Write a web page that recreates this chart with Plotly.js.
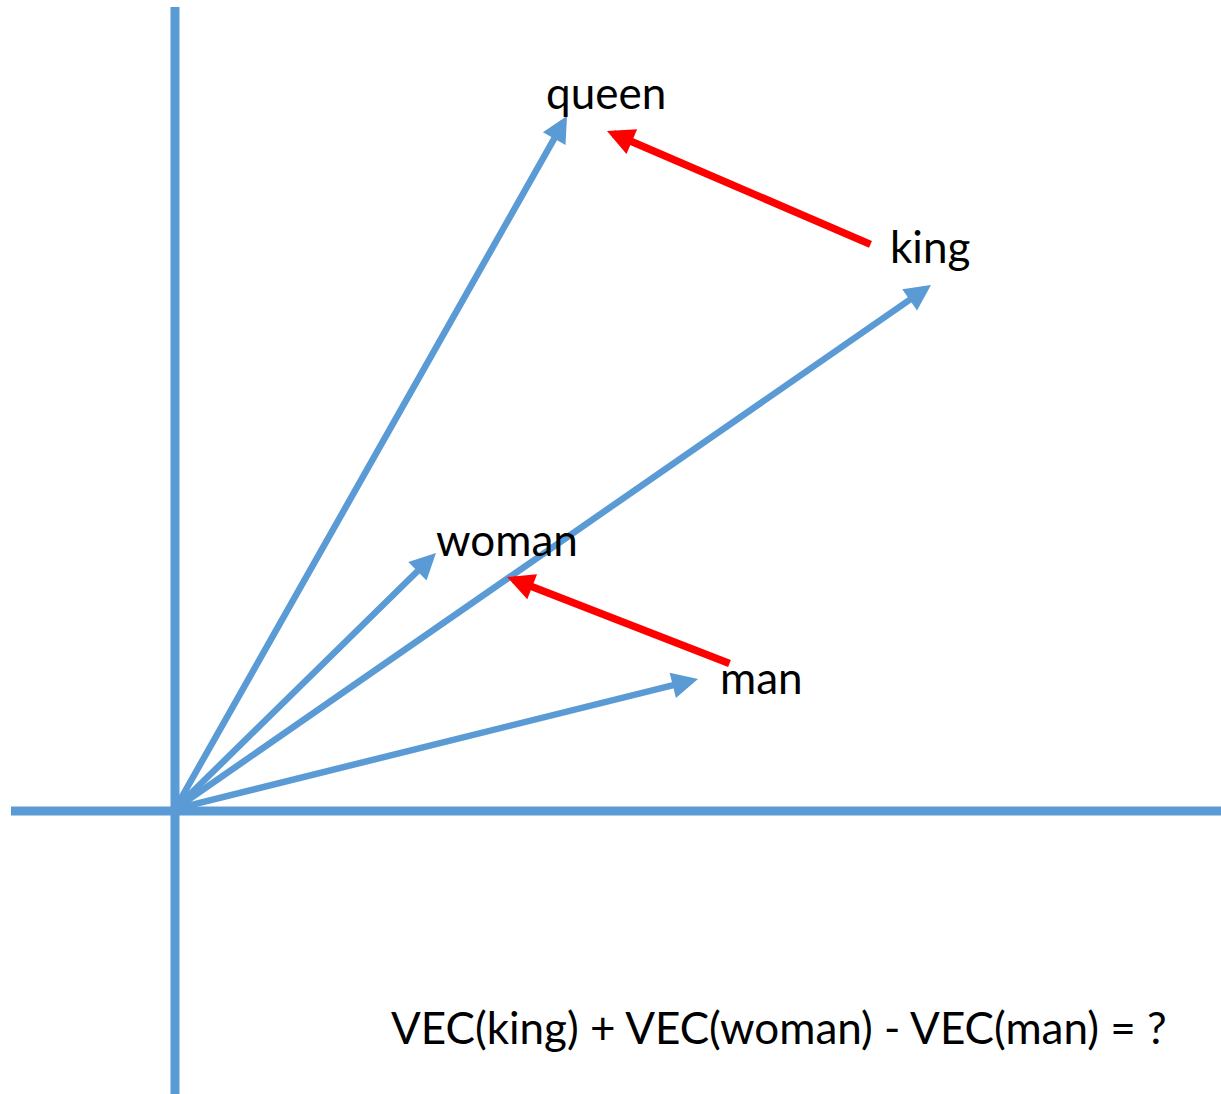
<!DOCTYPE html>
<html>
<head>
<meta charset="utf-8">
<script src="https://cdn.plot.ly/plotly-3.0.1.min.js"></script>
<style>html,body{margin:0;padding:0;background:#fff;}#chart{width:1221px;height:1094px;}</style>
</head>
<body>
<div id="chart"></div>
<script>
// word vectors (tips), origin at (0,0)
const words = ["queen", "king", "woman", "man"];
const vecX = [3.92, 7.56, 2.61, 5.23];
const vecY = [6.95, 5.26, 2.58, 1.32];
// label positions
const labelX = [4.305, 7.55, 3.315, 5.865];
const labelY = [7.19, 5.65, 2.72, 1.34];
// difference arrows (red): tail -> tip
const diffTailX = [6.97, 5.56];
const diffTailY = [5.66, 1.47];
const diffTipX = [4.32, 3.32];
const diffTipY = [6.80, 2.34];
// axes extents
const axisXExtent = [-1.64, 10.46];
const axisYExtent = [-2.83, 8.04];
const formula = "VEC(king) + VEC(woman) - VEC(man) = ?";
const formulaPos = [6.04, -2.16];

const blue = "#5B9BD5";
const red = "#FF0000";
const font = {family: "Lato, 'Open Sans', sans-serif", size: 44, color: "#000"};

const traces = [
  {x: axisXExtent, y: [0, 0], mode: "lines", line: {color: blue, width: 9}, hoverinfo: "skip", showlegend: false},
  {x: [0, 0], y: axisYExtent, mode: "lines", line: {color: blue, width: 9}, hoverinfo: "skip", showlegend: false}
];

const annotations = [];
for (let i = 0; i < words.length; i++) {
  annotations.push({
    x: vecX[i], y: vecY[i], xref: "x", yref: "y",
    ax: 0, ay: 0.02, axref: "x", ayref: "y",
    text: "", showarrow: true, arrowhead: 2, arrowsize: 0.8, arrowwidth: 6.5,
    arrowcolor: blue, standoff: 0, startstandoff: 0
  });
}
for (let i = 0; i < diffTailX.length; i++) {
  annotations.push({
    x: diffTipX[i], y: diffTipY[i], xref: "x", yref: "y",
    ax: diffTailX[i], ay: diffTailY[i], axref: "x", ayref: "y",
    text: "", showarrow: true, arrowhead: 2, arrowsize: 0.72, arrowwidth: 7.5,
    arrowcolor: red, standoff: 0, startstandoff: 0
  });
}
for (let i = 0; i < words.length; i++) {
  annotations.push({
    x: labelX[i], y: labelY[i], xref: "x", yref: "y",
    text: words[i], showarrow: false, font: font,
    xanchor: "center", yanchor: "middle"
  });
}
annotations.push({
  x: formulaPos[0], y: formulaPos[1], xref: "x", yref: "y",
  text: formula, showarrow: false, font: font,
  xanchor: "center", yanchor: "middle"
});

const layout = {
  width: 1221, height: 1094,
  margin: {l: 0, r: 0, t: 0, b: 0},
  paper_bgcolor: "#fff", plot_bgcolor: "#fff",
  xaxis: {range: [-1.75, 10.46], visible: false, fixedrange: true},
  yaxis: {range: [-2.83, 8.11], visible: false, fixedrange: true},
  annotations: annotations,
  showlegend: false,
  hovermode: false
};

Plotly.newPlot("chart", traces, layout, {displayModeBar: false, staticPlot: true});
</script>
</body>
</html>
